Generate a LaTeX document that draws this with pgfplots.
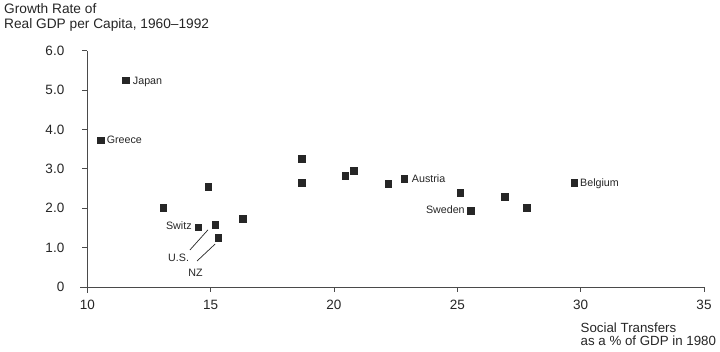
\documentclass[border=0pt]{standalone}
\usepackage{fontspec}
\setmainfont{Liberation Sans}
\usepackage{pgfplots}
\pgfplotsset{compat=1.18}
\definecolor{ink}{HTML}{262626}
\definecolor{axisgray}{HTML}{4A4A4A}
\begin{document}
\begin{tikzpicture}[x=1pt,y=1pt]
\useasboundingbox (0,0) rectangle (720,352);
\fill[white] (0,0) rectangle (720,352);
\node[anchor=base west, inner sep=0, font=\fontsize{13.7}{16}\selectfont, text=ink] at (4,338) {Growth Rate of};
\node[anchor=base west, inner sep=0, font=\fontsize{13.7}{16}\selectfont, text=ink] at (4,323) {Real GDP per Capita, 1960--1992};
\node[anchor=base west, inner sep=0, font=\fontsize{13.3}{16}\selectfont, text=ink] at (580.5,19) {Social Transfers};
\node[anchor=base west, inner sep=0, font=\fontsize{13.3}{16}\selectfont, text=ink] at (580.5,6) {as a \% of GDP in 1980};
\begin{axis}[
  at={(87.3pt,65pt)}, anchor=south west,
  scale only axis, width=616.7pt, height=236.3pt,
  xmin=10, xmax=35, ymin=0, ymax=6,
  axis lines*=left,
  axis line style={-, draw=axisgray, line width=0.8pt},
  x axis line style={shorten <=-7pt},
  y axis line style={shorten <=-6pt},
  tick align=outside, major tick length=5pt,
  tick style={draw=axisgray, line width=0.8pt},
  xtick={10,15,20,25,30,35},
  ytick={0,1,2,3,4,5,6}, yticklabels={0,1.0,2.0,3.0,4.0,5.0,6.0},
  ticklabel style={font=\fontsize{13.5}{15}\selectfont, text=ink},
  yticklabel style={xshift=-14.5pt},
  xticklabel style={yshift=-5pt},
  /pgf/number format/assume math mode=true,
  clip=false,
]
\addplot[only marks, mark=square*, mark size=3.3pt, mark options={fill=ink, draw=ink}] coordinates {
  (11.56,5.25) (10.54,3.73) (13.08,2.01) (14.90,2.54) (14.50,1.52)
  (15.18,1.58) (15.31,1.25) (16.30,1.73) (18.70,3.26) (18.70,2.65)
  (20.45,2.82) (20.81,2.95) (22.20,2.63) (22.85,2.75) (25.12,2.39)
  (25.55,1.94) (26.93,2.29) (27.81,2.02) (29.73,2.65)
};
\begin{scope}[every node/.style={inner sep=0, font=\fontsize{10.7}{12}\selectfont, text=ink}]
\node[anchor=base west, xshift=7pt, yshift=-3.8pt] at (axis cs:11.56,5.25) {Japan};
\node[anchor=base west, xshift=6pt, yshift=-3.8pt] at (axis cs:10.54,3.73) {Greece};
\node[anchor=base west, xshift=7.5pt, yshift=-3.8pt] at (axis cs:22.85,2.75) {Austria};
\node[anchor=base west, xshift=6pt, yshift=-3.8pt] at (axis cs:29.73,2.65) {Belgium};
\node[anchor=base east, xshift=-6pt, yshift=-3.3pt] at (axis cs:25.55,1.94) {Sweden};
\node[anchor=base east, xshift=-6.5pt, yshift=-2.8pt] at (axis cs:14.50,1.52) {Switz};
\node[anchor=base] at (axis cs:13.70,0.64) {U.S.};
\node[anchor=base] at (axis cs:14.39,0.26) {NZ};
\end{scope}
\draw[ink, line width=0.7pt] (axis cs:14.16,0.94) -- (axis cs:14.89,1.45);
\draw[ink, line width=0.7pt] (axis cs:14.45,0.66) -- (axis cs:15.18,1.09);
\end{axis}
\end{tikzpicture}
\end{document}
